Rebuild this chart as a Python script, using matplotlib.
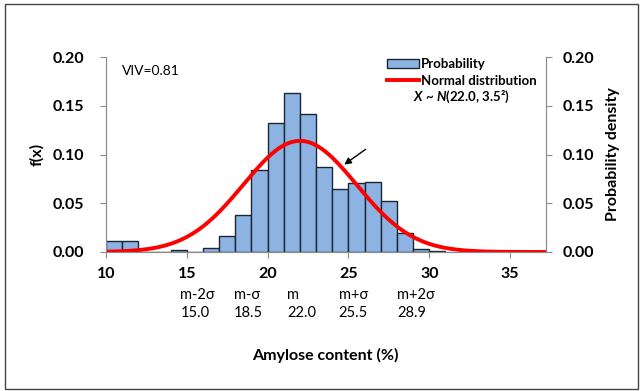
import matplotlib.pyplot as plt
import matplotlib.patches as mpatches
from matplotlib.lines import Line2D
import numpy as np

plt.rcParams['font.family'] = ['Lato', 'DejaVu Sans']
plt.rcParams['mathtext.fontset'] = 'custom'
plt.rcParams['mathtext.rm'] = 'Lato:bold'
plt.rcParams['mathtext.it'] = 'Lato:bold:italic'

# histogram bins (left edges, width 1) and relative frequencies
bin_left = list(range(10, 31))
freq = [0.011, 0.011, 0.000, 0.0005, 0.002, 0.000, 0.0045, 0.016, 0.038, 0.084,
        0.132, 0.163, 0.142, 0.087, 0.065, 0.071, 0.072, 0.052, 0.020, 0.0035, 0.0015]

# fitted normal distribution
mean = 22.0
sd = 3.5

sigma_names = ["m-2σ", "m-σ", "m", "m+σ", "m+2σ"]
sigma_values = ["15.0", "18.5", "22.0", "25.5", "28.9"]
sigma_text_x = [14.6, 17.9, 21.2, 24.4, 28.0]

grey = "#8c8c8c"
yt = [0, 0.05, 0.10, 0.15, 0.20]
fs = 11.5

fig = plt.figure(figsize=(6.42, 3.91), dpi=100)
ax = fig.add_axes([0.165, 0.3555, 0.685, 0.4987])

ax.bar(bin_left, freq, width=1, align='edge', color="#8db3e2",
       edgecolor="#1c2633", linewidth=1.0, zorder=2)

xs = np.linspace(10, 37.2, 400)
pdf = np.exp(-0.5 * ((xs - mean) / sd) ** 2) / (sd * np.sqrt(2 * np.pi))
ax.plot(xs, pdf, color="#ff0000", linewidth=2.8, zorder=3)

ax.set_xlim(10, 37.2)
ax.set_ylim(0, 0.20)
ax.set_xticks([10, 15, 20, 25, 30, 35])
ax.set_yticks(yt)
ax.set_yticklabels([f"{v:.2f}" for v in yt])
for lab in ax.get_xticklabels() + ax.get_yticklabels():
    lab.set_fontweight('bold')
    lab.set_fontsize(fs)
ax.tick_params(direction='out', length=4.5, color=grey)
ax.tick_params(axis='y', pad=11)
ax.tick_params(axis='x', pad=6)
for s in ['left', 'bottom', 'right']:
    ax.spines[s].set_color(grey)
ax.spines['top'].set_visible(False)
ax.set_ylabel("f(x)", fontweight='bold', fontsize=fs, labelpad=6)

ax2 = ax.twinx()
ax2.set_ylim(0, 0.20)
ax2.set_yticks(yt)
ax2.set_yticklabels([f"{v:.2f}" for v in yt], fontweight='bold', fontsize=fs)
ax2.tick_params(direction='out', length=4.5, color=grey, pad=8)
for s in ['left', 'bottom', 'right']:
    ax2.spines[s].set_color(grey)
ax2.spines['top'].set_visible(False)
ax2.set_ylabel("Probability density", fontweight='bold', fontsize=fs, labelpad=8)

# sigma annotations under the x axis
trans = ax.get_xaxis_transform()
for xp, nm, val in zip(sigma_text_x, sigma_names, sigma_values):
    ax.text(xp, -0.218, nm, transform=trans, ha='left', va='center', fontsize=10.5)
    ax.text(xp, -0.315, val, transform=trans, ha='left', va='center', fontsize=10.5)

ax.text(0.5, -0.53, "Amylose content (%)", transform=ax.transAxes, ha='center',
        va='center', fontweight='bold', fontsize=fs)

ax.text(11.0, 0.186, "VIV=0.81", fontsize=10, va='center')

handles = [mpatches.Patch(facecolor="#8db3e2", edgecolor="#1c2633", linewidth=1.0),
           Line2D([], [], color="#ff0000", linewidth=2.8)]
leg = ax2.legend(handles, ["Probability", "Normal distribution"], loc='upper left',
                 bbox_to_anchor=(0.627, 1.02), frameon=False,
                 prop={'weight': 'bold', 'size': 9.5},
                 handlelength=2.4, handletextpad=0.2, labelspacing=0.35,
                 borderaxespad=0)
ax.text(29.0, 0.159, r"$X$ ~ $N$(22.0, 3.5²)", fontsize=9.5, fontweight='bold',
        va='center')

ax.annotate("", xy=(24.6, 0.088), xytext=(26.2, 0.107),
            arrowprops=dict(arrowstyle='-|>', color='black', lw=1.0,
                            mutation_scale=10), zorder=5)

fig.patches.append(mpatches.Rectangle((0.008, 0.005), 0.986, 0.985,
                                      transform=fig.transFigure, fill=False,
                                      edgecolor="#444444", linewidth=1.0))

fig.savefig("out.png", dpi=100)
